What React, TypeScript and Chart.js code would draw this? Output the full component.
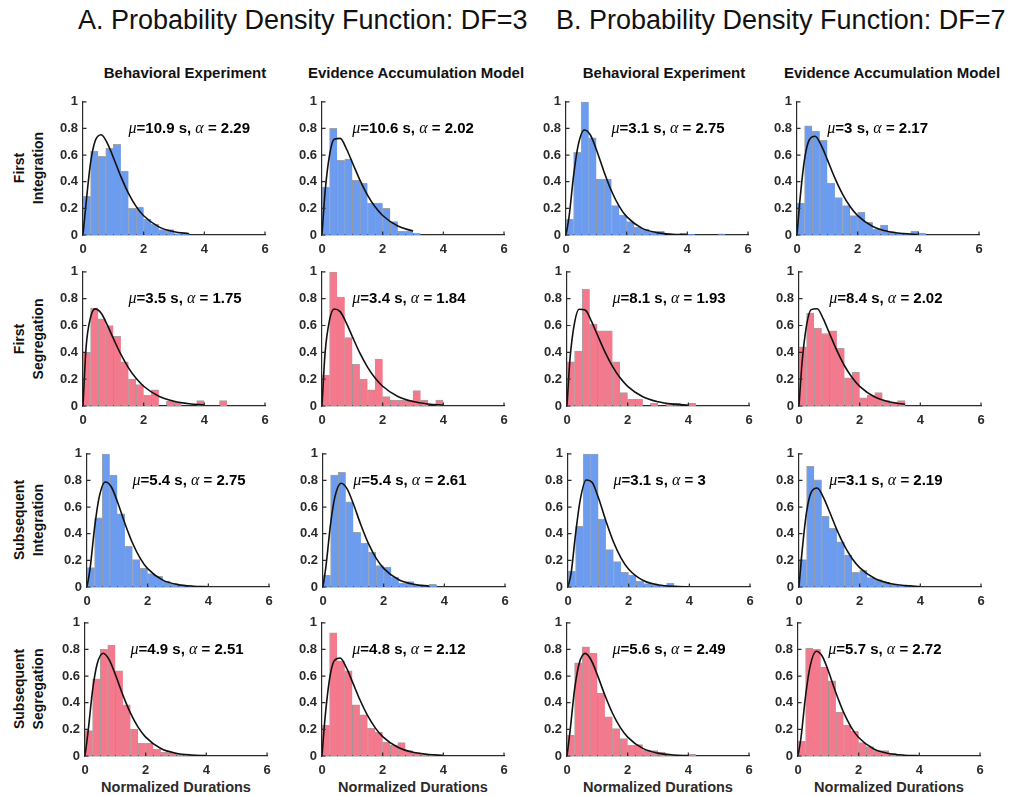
import React, { useEffect, useRef } from 'react';
import { Chart, registerables } from 'chart.js';

Chart.register(...registerables);

// ---------------- data ----------------
const binWidth = 0.25;
const xTickValues = [0, 2, 4, 6];

// histogram bin heights (bins of 0.25 starting at 0)
const histFirstIntA_Behav = [0.29, 0.63, 0.59, 0.65, 0.68, 0.48, 0.2, 0.21, 0.12, 0.08, 0.04, 0.04, 0.01, 0.01];
const histFirstIntA_Model = [0.36, 0.8, 0.56, 0.57, 0.41, 0.39, 0.24, 0.24, 0.2, 0.1, 0.03, 0.03, 0.015];
const histFirstIntB_Behav = [0.12, 0.62, 1.0, 0.73, 0.42, 0.42, 0.22, 0.15, 0.1, 0.06, 0.045, 0.025, 0.03, 0, 0, 0.015, 0.005, 0, 0, 0, 0.008];
const histFirstIntB_Model = [0.24, 0.82, 0.78, 0.71, 0.39, 0.28, 0.22, 0.145, 0.17, 0.095, 0.045, 0.075, 0.025, 0.015, 0.005, 0.03, 0.015];

const histFirstSegA_Behav = [0.4, 0.73, 0.65, 0.6, 0.52, 0.33, 0.2, 0.16, 0.08, 0.12, 0, 0.035, 0.03, 0, 0, 0.04, 0, 0, 0.04];
const histFirstSegA_Model = [0.23, 1.0, 0.81, 0.51, 0.31, 0.2, 0.12, 0.35, 0.07, 0.045, 0.045, 0.045, 0.115, 0.045, 0, 0.045];
const histFirstSegB_Behav = [0.33, 0.41, 0.87, 0.61, 0.56, 0.56, 0.33, 0.1, 0.05, 0.05, 0, 0.02, 0, 0.02, 0.02, 0, 0.02];
const histFirstSegB_Model = [0.44, 0.69, 0.58, 0.54, 0.56, 0.43, 0.21, 0.25, 0.06, 0.08, 0.1, 0.04, 0.03, 0.04];

const histSubIntA_Behav = [0.145, 0.52, 1.0, 0.84, 0.55, 0.305, 0.205, 0.14, 0.1, 0.08, 0.045, 0.025, 0.015, 0.01, 0.005, 0.005];
const histSubIntA_Model = [0.09, 0.84, 0.86, 0.64, 0.41, 0.33, 0.26, 0.16, 0.15, 0.075, 0.03, 0.04, 0.01, 0.005, 0.02];
const histSubIntB_Behav = [0.12, 0.455, 1.0, 1.0, 0.51, 0.28, 0.19, 0.11, 0.09, 0.045, 0.025, 0.02, 0.01, 0.03];
const histSubIntB_Model = [0.205, 0.905, 0.805, 0.53, 0.44, 0.34, 0.24, 0.11, 0.125, 0.07, 0.055, 0.035, 0.02, 0.01, 0.01, 0.005];

const histSubSegA_Behav = [0.19, 0.58, 0.8, 0.83, 0.64, 0.385, 0.2, 0.095, 0.095, 0.05, 0.03, 0.025, 0.015, 0.01, 0.005];
const histSubSegA_Model = [0.23, 0.925, 0.715, 0.64, 0.385, 0.31, 0.21, 0.18, 0.105, 0.08, 0.1, 0.04, 0.025, 0.015, 0.015, 0.005];
const histSubSegB_Behav = [0.155, 0.7, 0.82, 0.77, 0.47, 0.295, 0.205, 0.13, 0.08, 0.085, 0.045, 0.04, 0.03, 0.01, 0.005, 0, 0.012];
const histSubSegB_Model = [0.11, 0.81, 0.8, 0.665, 0.565, 0.33, 0.23, 0.185, 0.1, 0.07, 0.04, 0.04, 0.02, 0.01, 0.005, 0.005];

// fitted density curves, sampled at curveX
const curveX = [0, 0.1, 0.25, 0.4, 0.6, 0.8, 1, 1.25, 1.5, 1.75, 2, 2.5, 3, 3.5, 4];
const fit_1_75 = [0, 0.4325, 0.6613, 0.7236, 0.6912, 0.6043, 0.5035, 0.3843, 0.2845, 0.2062, 0.1471, 0.0725, 0.0347, 0.0162, 0.0075];
const fit_1_84 = [0, 0.3918, 0.6418, 0.7228, 0.7033, 0.6198, 0.5174, 0.394, 0.2899, 0.2083, 0.1471, 0.0707, 0.0328, 0.0149, 0.0066];
const fit_1_93 = [0, 0.3544, 0.622, 0.721, 0.7146, 0.6348, 0.531, 0.4033, 0.295, 0.2101, 0.1469, 0.0689, 0.0311, 0.0137, 0.0059];
const fit_2_02 = [0, 0.3202, 0.6021, 0.7183, 0.7252, 0.6493, 0.5443, 0.4124, 0.2998, 0.2117, 0.1464, 0.067, 0.0294, 0.0125, 0.0052];
const fit_2_12 = [0, 0.2856, 0.5799, 0.7143, 0.7361, 0.6649, 0.5586, 0.4222, 0.3048, 0.2132, 0.1457, 0.0656, 0.0276, 0.0113, 0.0046];
const fit_2_17 = [0, 0.2696, 0.5688, 0.7119, 0.7413, 0.6725, 0.5657, 0.4269, 0.3072, 0.2139, 0.1453, 0.0638, 0.0267, 0.0108, 0.0043];
const fit_2_19 = [0, 0.2635, 0.5644, 0.7109, 0.7433, 0.6755, 0.5685, 0.4288, 0.3081, 0.2141, 0.1452, 0.0633, 0.0263, 0.0106, 0.0042];
const fit_2_29 = [0, 0.2345, 0.5425, 0.7055, 0.7529, 0.6903, 0.5823, 0.438, 0.3126, 0.2152, 0.1442, 0.0612, 0.0246, 0.0096, 0.0036];
const fit_2_49 = [0, 0.1853, 0.4997, 0.6928, 0.7704, 0.7188, 0.6091, 0.4558, 0.3209, 0.2167, 0.1419, 0.057, 0.0215, 0.0078, 0.0027];
const fit_2_51 = [0, 0.1809, 0.4953, 0.6911, 0.7717, 0.7213, 0.6115, 0.4573, 0.3216, 0.2167, 0.1415, 0.0565, 0.0212, 0.0076, 0.0027];
const fit_2_61 = [0, 0.1605, 0.4745, 0.6837, 0.7792, 0.7347, 0.6244, 0.4657, 0.3252, 0.2171, 0.1402, 0.0544, 0.0198, 0.0069, 0.0023];
const fit_2_72 = [0, 0.1406, 0.4522, 0.6749, 0.7868, 0.7491, 0.6382, 0.4746, 0.329, 0.2173, 0.1385, 0.0522, 0.0183, 0.0061, 0.002];
const fit_2_75 = [0, 0.1356, 0.4463, 0.6725, 0.7888, 0.7529, 0.6419, 0.477, 0.33, 0.2173, 0.138, 0.0516, 0.0179, 0.0059, 0.0019];
const fit_3_00 = [0, 0.1, 0.3986, 0.6506, 0.8034, 0.7838, 0.6721, 0.4961, 0.3374, 0.217, 0.1339, 0.0467, 0.015, 0.0046, 0.0013];

// labels
const mainTitles = ['A. Probability Density Function: DF=3', 'B. Probability Density Function: DF=7'];
const columnHeaders = ['Behavioral Experiment', 'Evidence Accumulation Model', 'Behavioral Experiment', 'Evidence Accumulation Model'];
const rowLabels = [['First', 'Integration'], ['First', 'Segregation'], ['Subsequent', 'Integration'], ['Subsequent', 'Segregation']];
const xAxisTitle = 'Normalized Durations';

const muValues = [
  ['10.9', '10.6', '3.1', '3'],
  ['3.5', '3.4', '8.1', '8.4'],
  ['5.4', '5.4', '3.1', '3.1'],
  ['4.9', '4.8', '5.6', '5.7'],
];
const alphaValues = [
  ['2.29', '2.02', '2.75', '2.17'],
  ['1.75', '1.84', '1.93', '2.02'],
  ['2.75', '2.61', '3', '2.19'],
  ['2.51', '2.12', '2.49', '2.72'],
];
const histGrid = [
  [histFirstIntA_Behav, histFirstIntA_Model, histFirstIntB_Behav, histFirstIntB_Model],
  [histFirstSegA_Behav, histFirstSegA_Model, histFirstSegB_Behav, histFirstSegB_Model],
  [histSubIntA_Behav, histSubIntA_Model, histSubIntB_Behav, histSubIntB_Model],
  [histSubSegA_Behav, histSubSegA_Model, histSubSegB_Behav, histSubSegB_Model],
];
const fitGrid = [
  [fit_2_29, fit_2_02, fit_2_75, fit_2_17],
  [fit_1_75, fit_1_84, fit_1_93, fit_2_02],
  [fit_2_75, fit_2_61, fit_3_00, fit_2_19],
  [fit_2_51, fit_2_12, fit_2_49, fit_2_72],
];
// number of curve samples drawn (curve stops at the last observed duration)
const fitLengths = [
  [14, 13, 15, 15],
  [15, 15, 15, 14],
  [15, 14, 15, 15],
  [15, 15, 15, 15],
];

// ---------------- layout / style ----------------
const SANS = '"Liberation Sans", Arial, Helvetica, sans-serif';
const SERIF = '"Liberation Serif", "Times New Roman", Times, serif';
const AXIS_COLOR = '#2b2b2b';
const BLUE = 'rgb(108,156,240)';
const RED = 'rgb(245,121,140)';
const rowColors = [BLUE, RED, BLUE, RED];

const rowTops = [101, 271, 453, 622];
const rowHeights = [134, 135, 134, 134];
const colX0 = [
  [83, 322, 566, 797],
  [83, 322, 567, 799],
  [87, 323, 568, 799],
  [85, 322, 567, 798],
];
const PLOT_W = 182;
const AXIS_W = 40;
const AXIS_H = 30;
const PAD_TOP = 12;
const PAD_RIGHT = 14;
const labelXs = [1.5, 1.0, 1.5, 1.0];
const labelY = 0.8;

const fitLabelPlugin = {
  id: 'fitLabel',
  afterDraw(chart: any, _args: any, opts: any) {
    const { ctx } = chart;
    const xs = chart.scales.x;
    const ys = chart.scales.y;
    const px = xs.getPixelForValue(opts.x);
    const py = ys.getPixelForValue(opts.y);
    const sans = `bold 15px ${SANS}`;
    const serif = `italic 16px ${SERIF}`;
    const parts = [
      { t: '\u03bc', f: serif },
      { t: `=${opts.mu} s, `, f: sans },
      { t: '\u03b1', f: serif },
      { t: ` = ${opts.alpha}`, f: sans },
    ];
    ctx.save();
    ctx.fillStyle = '#000';
    ctx.textBaseline = 'middle';
    ctx.textAlign = 'left';
    let cx = px;
    for (const p of parts) {
      ctx.font = p.f;
      ctx.fillText(p.t, cx, py);
      cx += ctx.measureText(p.t).width;
    }
    ctx.restore();
  },
};

const innerTicksPlugin = {
  id: 'innerTicks',
  afterDraw(chart: any) {
    const { ctx, chartArea } = chart;
    const xs = chart.scales.x;
    const ys = chart.scales.y;
    ctx.save();
    ctx.strokeStyle = AXIS_COLOR;
    ctx.lineWidth = 1.2;
    ctx.beginPath();
    ys.ticks.forEach((t: any) => {
      const py = ys.getPixelForValue(t.value);
      ctx.moveTo(chartArea.left, py);
      ctx.lineTo(chartArea.left + 3.5, py);
    });
    xs.ticks.forEach((t: any) => {
      const px = xs.getPixelForValue(t.value);
      ctx.moveTo(px, chartArea.bottom);
      ctx.lineTo(px, chartArea.bottom - 3.5);
    });
    ctx.stroke();
    ctx.restore();
  },
};

type PanelProps = { row: number; col: number };

function Panel({ row, col }: PanelProps) {
  const ref = useRef<HTMLCanvasElement | null>(null);
  const plotH = rowHeights[row];
  const W = AXIS_W + PLOT_W + PAD_RIGHT;
  const H = PAD_TOP + plotH + AXIS_H;
  const left = colX0[row][col] - AXIS_W;
  const top = rowTops[row] - PAD_TOP;

  useEffect(() => {
    if (!ref.current) return;
    const hist = histGrid[row][col].map((v, i) => ({ x: (i + 0.5) * binWidth, y: v }));
    const fit = fitGrid[row][col].slice(0, fitLengths[row][col]).map((v, i) => ({ x: curveX[i], y: v }));
    const tickFont = { family: SANS, size: 13, weight: 'bold' as const };
    const chart = new Chart(ref.current, {
      type: 'bar',
      data: {
        datasets: [
          {
            type: 'line',
            data: fit,
            borderColor: '#111',
            borderWidth: 1.6,
            pointRadius: 0,
            cubicInterpolationMode: 'monotone',
            fill: false,
            order: 0,
          } as any,
          {
            type: 'bar',
            data: hist,
            backgroundColor: rowColors[row],
            borderColor: 'rgba(85,85,85,0.55)',
            borderWidth: { top: 1, left: 1, right: 0, bottom: 0 },
            barPercentage: 1,
            categoryPercentage: 1,
            order: 1,
          } as any,
        ],
      },
      options: {
        responsive: false,
        maintainAspectRatio: false,
        animation: false,
        events: [],
        layout: { padding: { left: 0, top: PAD_TOP, right: PAD_RIGHT, bottom: 0 } },
        plugins: {
          legend: { display: false },
          tooltip: { enabled: false },
          fitLabel: { x: labelXs[col], y: labelY, mu: muValues[row][col], alpha: alphaValues[row][col] },
        } as any,
        scales: {
          x: {
            type: 'linear',
            min: 0,
            max: 6,
            offset: false,
            grid: { display: false, drawTicks: false, offset: false },
            border: { display: true, color: AXIS_COLOR, width: 1.2 },
            ticks: {
              stepSize: 2,
              padding: 7,
              maxRotation: 0,
              autoSkip: false,
              color: AXIS_COLOR,
              font: tickFont,
              callback: (v: any) => (xTickValues.includes(Number(v)) ? String(v) : ''),
            },
            afterFit: (s: any) => {
              s.height = AXIS_H;
            },
          },
          y: {
            type: 'linear',
            min: 0,
            max: 1,
            grid: { display: false, drawTicks: false },
            border: { display: true, color: AXIS_COLOR, width: 1.2 },
            ticks: {
              stepSize: 0.2,
              padding: 5,
              color: AXIS_COLOR,
              font: tickFont,
              callback: (v: any) => String(Math.round(Number(v) * 10) / 10),
            },
            afterFit: (s: any) => {
              s.width = AXIS_W;
            },
          },
        },
      } as any,
      plugins: [fitLabelPlugin as any, innerTicksPlugin as any],
    });
    return () => chart.destroy();
  }, [row, col]);

  return (
    <canvas
      ref={ref}
      width={W}
      height={H}
      style={{ position: 'absolute', left, top, width: W, height: H }}
    />
  );
}

export default function App() {
  const titleLefts = [78, 556];
  const headerCenters = [185, 416, 664, 892];
  const rowCenters = rowTops.map((t, i) => t + rowHeights[i] / 2);
  const panelsIdx: PanelProps[] = [];
  for (let r = 0; r < 4; r++) for (let c = 0; c < 4; c++) panelsIdx.push({ row: r, col: c });

  return (
    <div
      style={{
        position: 'absolute',
        left: 0,
        top: 0,
        width: 1013,
        height: 796,
        overflow: 'hidden',
        background: '#fff',
        fontFamily: SANS,
        color: '#000',
      }}
    >
      {mainTitles.map((t, i) => (
        <div
          key={'t' + i}
          style={{
            position: 'absolute',
            left: titleLefts[i],
            top: 6.5,
            fontSize: 27,
            lineHeight: '27px',
            whiteSpace: 'nowrap',
            color: '#111',
          }}
        >
          {t}
        </div>
      ))}
      {columnHeaders.map((t, i) => (
        <div
          key={'h' + i}
          style={{
            position: 'absolute',
            left: headerCenters[i] - 150,
            width: 300,
            top: 64.5,
            fontSize: 15,
            lineHeight: '15px',
            fontWeight: 'bold',
            textAlign: 'center',
            whiteSpace: 'nowrap',
            color: '#111',
          }}
        >
          {t}
        </div>
      ))}
      {rowLabels.map((lines, i) => (
        <div
          key={'r' + i}
          style={{
            position: 'absolute',
            left: 28.5 - 80,
            top: rowCenters[i] - 19,
            width: 160,
            height: 38,
            fontSize: 14,
            lineHeight: '19px',
            fontWeight: 'bold',
            textAlign: 'center',
            transform: 'rotate(-90deg)',
            transformOrigin: '50% 50%',
            color: '#111',
          }}
        >
          {lines.map((l, j) => (
            <div key={j}>{l}</div>
          ))}
        </div>
      ))}
      {[0, 1, 2, 3].map((c) => (
        <div
          key={'x' + c}
          style={{
            position: 'absolute',
            left: colX0[3][c] + PLOT_W / 2 - 100,
            width: 200,
            top: 779.5,
            fontSize: 14.5,
            lineHeight: '14.5px',
            fontWeight: 'bold',
            textAlign: 'center',
            whiteSpace: 'nowrap',
            color: AXIS_COLOR,
          }}
        >
          {xAxisTitle}
        </div>
      ))}
      {panelsIdx.map((p) => (
        <Panel key={`${p.row}-${p.col}`} row={p.row} col={p.col} />
      ))}
    </div>
  );
}
